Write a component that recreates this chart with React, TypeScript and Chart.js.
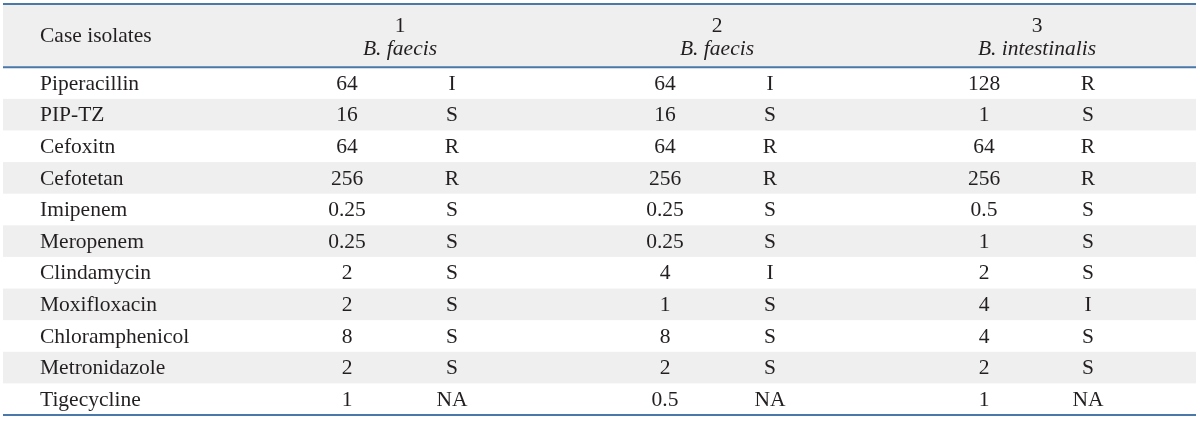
import React, { useEffect, useRef } from "react";
import { Chart, registerables } from "chart.js";

Chart.register(...registerables);

// ---- data ----
const drugs = [
  "Piperacillin",
  "PIP-TZ",
  "Cefoxitn",
  "Cefotetan",
  "Imipenem",
  "Meropenem",
  "Clindamycin",
  "Moxifloxacin",
  "Chloramphenicol",
  "Metronidazole",
  "Tigecycline",
];
const headerSlots = ["header-1", "header-2"];
const rowHeader = "Case isolates";
const isolateNumbers = ["1", "2", "3"];
const species = ["B. faecis", "B. faecis", "B. intestinalis"];
const mic1 = ["64", "16", "64", "256", "0.25", "0.25", "2", "2", "8", "2", "1"];
const int1 = ["I", "S", "R", "R", "S", "S", "S", "S", "S", "S", "NA"];
const mic2 = ["64", "16", "64", "256", "0.25", "0.25", "4", "1", "8", "2", "0.5"];
const int2 = ["I", "S", "R", "R", "S", "S", "I", "S", "S", "S", "NA"];
const mic3 = ["128", "1", "64", "256", "0.5", "1", "2", "4", "4", "2", "1"];
const int3 = ["R", "S", "R", "R", "S", "S", "S", "I", "S", "S", "NA"];

const micCols = [mic1, mic2, mic3];
const intCols = [int1, int2, int3];

// ---- layout / style ----
const LAYOUT = {
  tableLeft: 3,
  tableRight: 1196,
  nameX: 40,
  micX: [347, 665, 984],
  intX: [452, 770, 1088],
  headerX: [400, 717, 1037],
  headerLineOffsets: [-9, 14],
};
const STYLE = {
  font: '"Liberation Serif", "DejaVu Serif", serif',
  size: 21.5,
  text: "#231f20",
  stripe: "#efefef",
  rule: "#4a78a8",
};

const tablePlugin = {
  id: "tablePlugin",
  beforeDatasetsDraw(chart: any) {
    const { ctx, scales, chartArea } = chart;
    const x = scales.x;
    const y = scales.y;
    const left = x.getPixelForValue(LAYOUT.tableLeft);
    const right = x.getPixelForValue(LAYOUT.tableRight);
    const slot = y.getPixelForValue(1) - y.getPixelForValue(0);
    ctx.save();
    // header background
    const headerBottom = (y.getPixelForValue(1) + y.getPixelForValue(2)) / 2;
    ctx.fillStyle = STYLE.stripe;
    ctx.fillRect(left, chartArea.top, right - left, headerBottom - chartArea.top);
    // stripes
    drugs.forEach((d, i) => {
      if (i % 2 === 1) {
        const cy = y.getPixelForValue(headerSlots.length + i);
        ctx.fillRect(left, cy - slot / 2, right - left, slot);
      }
    });
    // rules
    ctx.strokeStyle = STYLE.rule;
    ctx.lineWidth = 2;
    ctx.beginPath();
    ctx.moveTo(left, chartArea.top);
    ctx.lineTo(right, chartArea.top);
    ctx.moveTo(left, headerBottom);
    ctx.lineTo(right, headerBottom);
    ctx.moveTo(left, chartArea.bottom);
    ctx.lineTo(right, chartArea.bottom);
    ctx.stroke();

    // header texts
    ctx.fillStyle = STYLE.text;
    ctx.textBaseline = "middle";
    const headerMid = (y.getPixelForValue(0) + y.getPixelForValue(1)) / 2;
    ctx.font = `${STYLE.size}px ${STYLE.font}`;
    ctx.textAlign = "left";
    ctx.fillText(rowHeader, x.getPixelForValue(LAYOUT.nameX), headerMid + 1);
    ctx.textAlign = "center";
    isolateNumbers.forEach((n, i) => {
      const hx = x.getPixelForValue(LAYOUT.headerX[i]);
      ctx.font = `${STYLE.size}px ${STYLE.font}`;
      ctx.fillText(n, hx, headerMid + LAYOUT.headerLineOffsets[0]);
      ctx.font = `italic ${STYLE.size}px ${STYLE.font}`;
      ctx.fillText(species[i], hx, headerMid + LAYOUT.headerLineOffsets[1]);
    });
    ctx.restore();
  },
  afterDatasetsDraw(chart: any) {
    const { ctx } = chart;
    ctx.save();
    ctx.fillStyle = STYLE.text;
    ctx.textBaseline = "middle";
    ctx.font = `${STYLE.size}px ${STYLE.font}`;
    chart.data.datasets.forEach((ds: any, di: number) => {
      const meta = chart.getDatasetMeta(di);
      ctx.textAlign = ds.textAlign || "center";
      meta.data.forEach((el: any, j: number) => {
        ctx.fillText(ds.texts[j], el.x, el.y + 1);
      });
    });
    ctx.restore();
  },
};

export default function App() {
  const ref = useRef<HTMLCanvasElement | null>(null);
  useEffect(() => {
    if (!ref.current) return;
    const datasets: any[] = [];
    datasets.push({
      label: "Drug",
      data: drugs.map((d) => ({ x: LAYOUT.nameX, y: d })),
      texts: drugs,
      textAlign: "left",
      pointRadius: 0,
    });
    micCols.forEach((col, i) => {
      datasets.push({
        label: `MIC ${isolateNumbers[i]}`,
        data: drugs.map((d) => ({ x: LAYOUT.micX[i], y: d })),
        texts: col,
        pointRadius: 0,
      });
      datasets.push({
        label: `Interpretation ${isolateNumbers[i]}`,
        data: drugs.map((d) => ({ x: LAYOUT.intX[i], y: d })),
        texts: intCols[i],
        pointRadius: 0,
      });
    });
    const chart = new Chart(ref.current, {
      type: "scatter",
      data: { datasets },
      options: {
        responsive: false,
        animation: false,
        layout: { padding: { top: 4, bottom: 6, left: 0, right: 0 } },
        plugins: { legend: { display: false }, tooltip: { enabled: false } },
        scales: {
          x: { type: "linear", min: 0, max: 1200, display: false },
          y: {
            type: "category",
            labels: [...headerSlots, ...drugs],
            offset: true,
            display: false,
          },
        },
      } as any,
      plugins: [tablePlugin],
    });
    return () => chart.destroy();
  }, []);
  return (
    <div style={{ position: "absolute", left: 0, top: 0, width: 1200, height: 421, background: "#fff" }}>
      <canvas ref={ref} width={1200} height={421} style={{ display: "block" }} />
    </div>
  );
}
